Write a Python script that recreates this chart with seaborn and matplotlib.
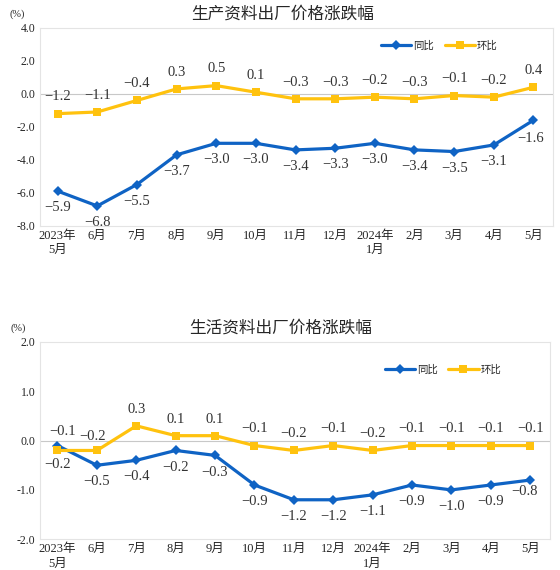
import seaborn as sns
import matplotlib.pyplot as plt
import pandas as pd

months = ["2023年\n5月", "6月", "7月", "8月", "9月", "10月", "11月", "12月",
          "2024年\n1月", "2月", "3月", "4月", "5月"]

# 生产资料
prod_yoy = [-5.9, -6.8, -5.5, -3.7, -3.0, -3.0, -3.4, -3.3, -3.0, -3.4, -3.5, -3.1, -1.6]
prod_mom = [-1.2, -1.1, -0.4, 0.3, 0.5, 0.1, -0.3, -0.3, -0.2, -0.3, -0.1, -0.2, 0.4]

# 生活资料
life_yoy = [-0.1, -0.5, -0.4, -0.2, -0.3, -0.9, -1.2, -1.2, -1.1, -0.9, -1.0, -0.9, -0.8]
life_mom = [-0.2, -0.2, 0.3, 0.1, 0.1, -0.1, -0.2, -0.1, -0.2, -0.1, -0.1, -0.1, -0.1]

BLUE = "#0F63C4"
YELLOW = "#FFC20E"

sns.set_theme(style="white")
plt.rcParams['font.family'] = ['Liberation Serif', 'Noto Sans CJK SC']
plt.rcParams['axes.unicode_minus'] = True

fig = plt.figure(figsize=(5.6, 5.7), dpi=100)
ax1 = fig.add_axes([0.071, 0.604, 0.917, 0.347])
ax2 = fig.add_axes([0.071, 0.054, 0.911, 0.346])


def fmt(v):
    s = "%.1f" % v
    return s.replace("-", "\u2212")


def draw(ax, yoy, mom, title, ylim, yticks, yoy_off, mom_off, leg_anchor):
    df = pd.DataFrame({"x": list(range(len(months))) * 2,
                       "y": yoy + mom,
                       "s": ["同比"] * len(yoy) + ["环比"] * len(mom)})
    sns.lineplot(data=df, x="x", y="y", hue="s", style="s",
                 palette={"同比": BLUE, "环比": YELLOW},
                 markers={"同比": "D", "环比": "s"}, dashes=False,
                 markersize=5.5, linewidth=2.3, markeredgewidth=0, ax=ax)
    ax.axhline(0, color="#C8C8C8", lw=0.8, zorder=0)
    ax.set_xlim(-0.45, 12.5)
    ax.set_ylim(*ylim)
    ax.set_yticks(yticks)
    ax.set_yticklabels(["%.1f" % t for t in yticks], fontsize=8.5)
    ax.set_xticks(range(len(months)))
    ax.set_xticklabels(months, fontsize=9, linespacing=1.25)
    ax.tick_params(length=0, pad=3)
    ax.set_xlabel("")
    ax.set_ylabel("")
    for sp in ax.spines.values():
        sp.set_color("#E4E4E4")
        sp.set_linewidth(0.8)
    ax.text(0.473, 1.068, title, transform=ax.transAxes, ha="center",
            va="center", fontsize=12, family=['Noto Sans CJK SC'])
    ax.text(-0.058, 1.068, "(%)", transform=ax.transAxes, fontsize=7.5,
            va="center")
    for i, v in enumerate(yoy):
        dx, dy = yoy_off.get(i, (0, -12))
        ax.annotate(fmt(v), (i, v), xytext=(dx, dy), textcoords="offset points",
                    ha="center", va="center", fontsize=10.5, color="#333333")
    for i, v in enumerate(mom):
        dx, dy = mom_off.get(i, (0, 12))
        ax.annotate(fmt(v), (i, v), xytext=(dx, dy), textcoords="offset points",
                    ha="center", va="center", fontsize=10.5, color="#333333")
    ax.legend(loc="center right", bbox_to_anchor=leg_anchor, ncol=2,
              frameon=False, handlelength=2.9, columnspacing=1.0,
              handletextpad=0.2, borderaxespad=0,
              prop={'family': ['Noto Sans CJK SC'], 'size': 7.5})


draw(ax1, prod_yoy, prod_mom, "生产资料出厂价格涨跌幅", (-8, 4),
     [4.0, 2.0, 0.0, -2.0, -4.0, -6.0, -8.0],
     {12: (-2, -13)}, {}, (0.90, 0.91))
draw(ax2, life_yoy, life_mom, "生活资料出厂价格涨跌幅", (-2, 2),
     [2.0, 1.0, 0.0, -1.0, -2.0],
     {0: (4, 10), 12: (-4, -8)}, {0: (0, -10), 1: (-3, 10)}, (0.913, 0.86))

fig.savefig("out.png", dpi=100)
